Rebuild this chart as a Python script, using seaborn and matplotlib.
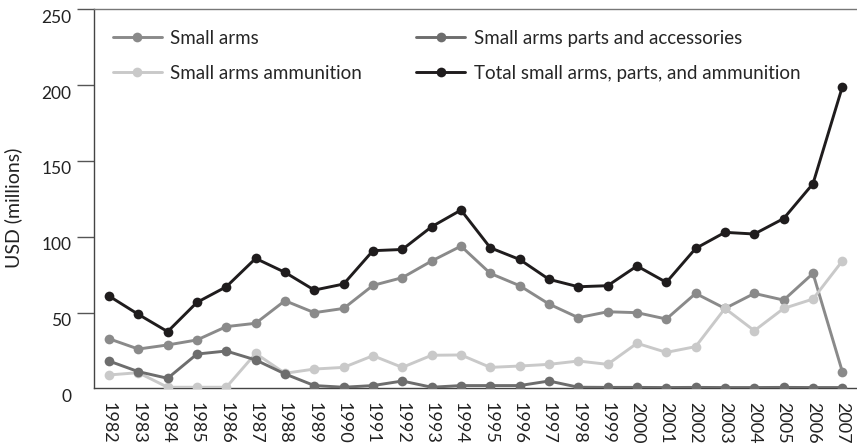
import numpy as np
import pandas as pd
import matplotlib
matplotlib.use('Agg')
import matplotlib.pyplot as plt
import matplotlib.transforms as mtransforms
import seaborn as sns

# =============================
# Data (USD millions)
# =============================
years = [str(y) for y in range(1982, 2008)]

small_arms = [32.7, 25.9, 28.6, 31.9, 40.7, 42.9, 57.8, 49.9, 52.7, 67.9, 73.0, 84.0, 93.8,
              75.8, 67.7, 55.6, 46.6, 50.5, 49.9, 45.7, 62.6, 52.7, 62.6, 58.2, 75.8, 11.0]
parts = [18.0, 11.0, 6.6, 22.6, 24.6, 18.7, 9.5, 1.8, 0.7, 1.8, 4.8, 0.7, 1.8,
         1.8, 1.8, 4.8, 0.7, 0.6, 0.6, 0.5, 0.6, 0.5, 0.5, 0.6, 0.5, 0.5]
ammunition = [8.8, 10.3, 0.7, 0.7, 0.7, 23.0, 9.9, 12.7, 13.8, 21.5, 13.8, 21.8, 22.0,
              13.8, 14.7, 15.8, 18.0, 15.8, 29.7, 23.7, 27.5, 52.7, 38.0, 52.7, 58.9, 84.0]
total = [60.9, 48.8, 37.4, 56.7, 67.0, 85.7, 76.5, 64.8, 68.8, 90.8, 91.6, 106.6, 117.6,
         92.7, 85.0, 71.9, 67.0, 67.7, 80.7, 69.9, 92.3, 102.9, 101.8, 112.0, 135.0, 198.9]

series_names = ['Small arms', 'Small arms ammunition',
                'Small arms parts and accessories', 'Total small arms, parts, and ammunition']
series_values = [small_arms, ammunition, parts, total]
series_colors = ['#8a8a8a', '#c9c9c9', '#6d6d6d', '#1f1c1d']
draw_order = [1, 0, 2, 3]  # ammunition underneath, total on top

yticks = [0, 50, 100, 150, 200, 250]

# =============================
# Build long-form table
# =============================
rows = []
for name, vals in zip(series_names, series_values):
    for i, v in enumerate(vals):
        rows.append({'idx': i, 'Year': years[i], 'Series': name, 'Value': v})
df = pd.DataFrame(rows)

# =============================
# Plot
# =============================
sns.set_style('white')
plt.rcParams['font.family'] = ['Lato', 'DejaVu Sans']

fig = plt.figure(figsize=(8.57, 4.45), dpi=100)
ax = fig.add_axes([94.3 / 857, 56.7 / 445, (857 - 94.3) / 857, (435.6 - 56.7) / 445])

for k in draw_order:
    name = series_names[k]
    sub = df[df['Series'] == name]
    sns.lineplot(data=sub, x='idx', y='Value', color=series_colors[k], marker='o',
                 markersize=7, markeredgewidth=0, linewidth=2.1, ax=ax, label=name,
                 zorder=2 + k)

ax.set_xlim(-0.5, -0.5 + (857 - 94.3) / 29.4)
ax.set_ylim(0, 250)

# x axis: labels at category centres, ticks at boundaries
ax.set_xticks(range(len(years)))
ax.set_xticklabels(years, rotation=270, fontsize=13, color='#222222')
ax.set_xticks(np.arange(-0.5, len(years), 1.0), minor=True)
ax.tick_params(axis='x', which='major', length=0, pad=10)
ax.tick_params(axis='x', which='minor', length=7, width=1, color='#333333', direction='out')
ax.set_xlabel('')

# y axis
ax.set_yticks(yticks)
ax.set_yticklabels([str(t) for t in yticks], fontsize=12.5, color='#222222')
ax.tick_params(axis='y', which='major', length=12.5, width=1, color='#555555',
               direction='out', pad=4, left=True)
ax.yaxis.get_major_ticks()[0].tick1line.set_visible(False)
shift = mtransforms.ScaledTranslation(0, -7 / 100, fig.dpi_scale_trans)
for lbl in ax.get_yticklabels():
    lbl.set_transform(lbl.get_transform() + shift)
ax.set_ylabel('USD (millions)', fontsize=14, color='#222222', labelpad=3)
ax.yaxis.set_label_coords(-94.3 / 857 * 0 - (94.3 - 22.5) / (857 - 94.3), (388.3 - 208) / (388.3 - 9.4))

for side in ['left', 'bottom', 'top']:
    ax.spines[side].set_visible(True)
    ax.spines[side].set_color('#444444')
    ax.spines[side].set_linewidth(1.0)
ax.spines['top'].set_color('#777777')
ax.spines['right'].set_visible(False)

# legend: two columns in the upper left
h, l = ax.get_legend_handles_labels()
lookup = dict(zip(l, h))
ax.legend([lookup[n] for n in series_names], series_names, ncol=2, frameon=False,
          loc='upper left', bbox_to_anchor=(113 / 857, 1 - 30 / 445),
          bbox_transform=fig.transFigure, fontsize=13.5, handlelength=2.6,
          handletextpad=0.45, columnspacing=2.9, labelspacing=0.95, borderpad=0,
          borderaxespad=0)

fig.savefig('out.png', dpi=100)
plt.close(fig)
